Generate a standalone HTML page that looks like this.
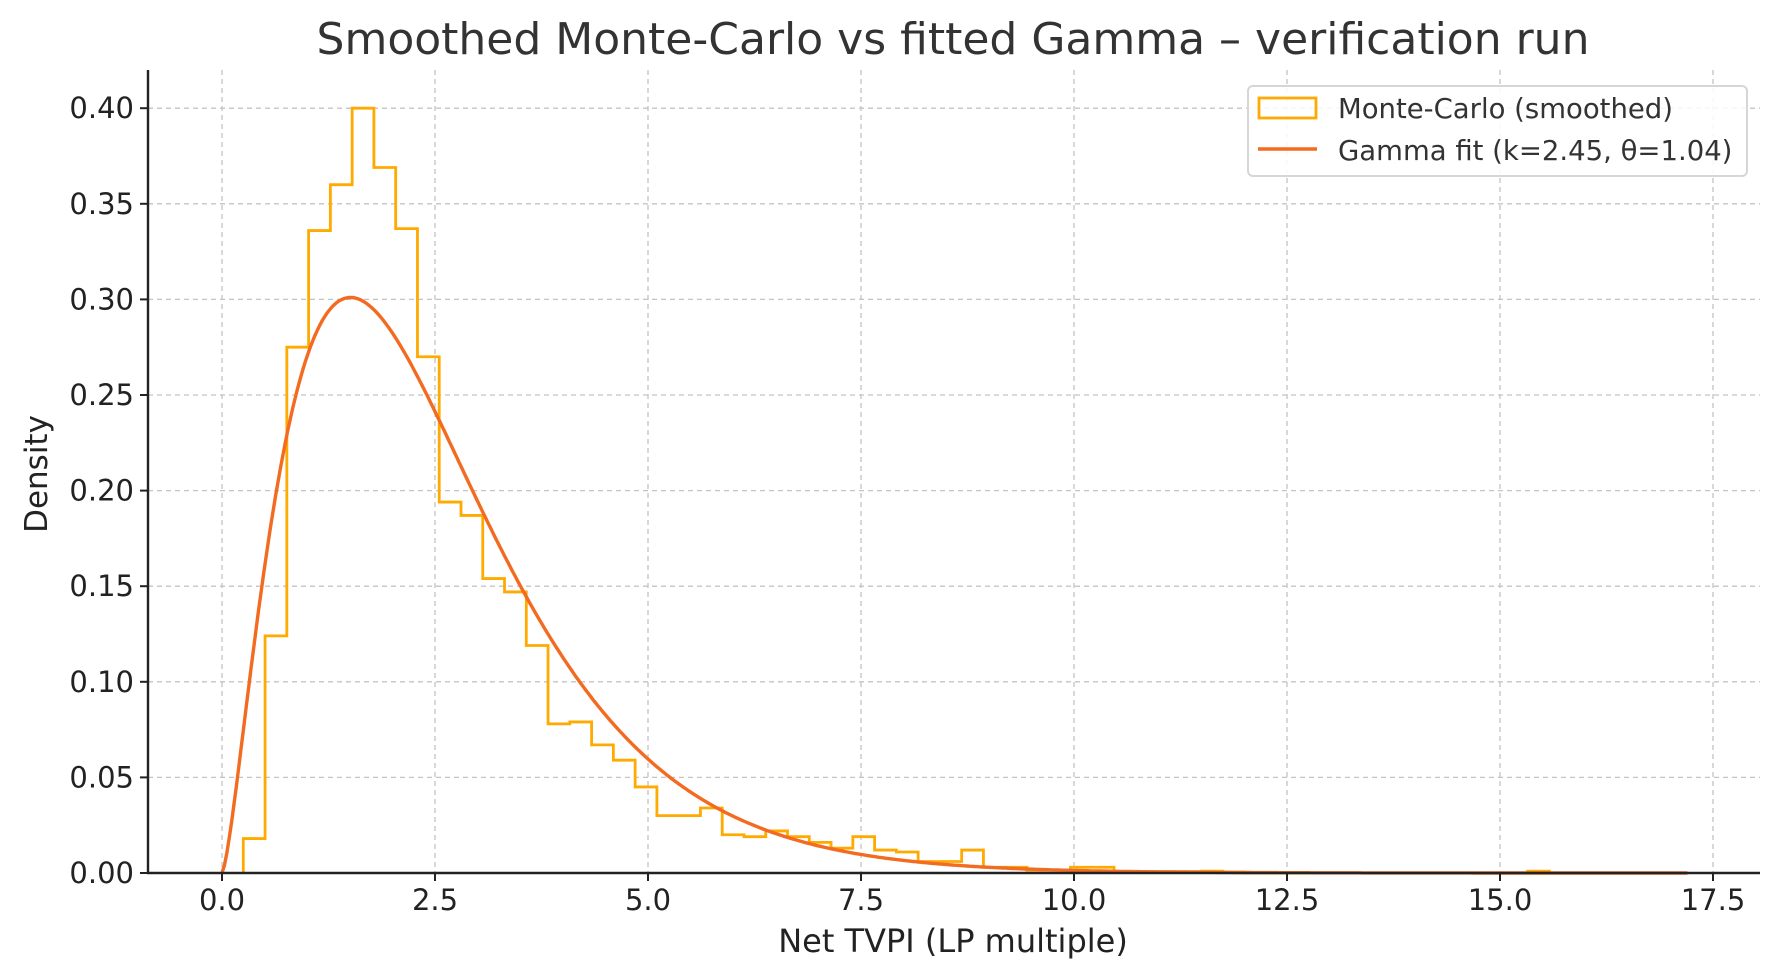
<!DOCTYPE html>
<html><head><meta charset="utf-8"><style>
html,body{margin:0;padding:0;background:#fff;}
svg{display:block;font-family:"DejaVu Sans","Liberation Sans",sans-serif;}
</style></head><body>
<svg id="s" width="1780" height="980" viewBox="0 0 1780 980" xmlns="http://www.w3.org/2000/svg">
<rect width="1780" height="980" fill="#fff"/>
<g id="grid" stroke="#c4c4c4" stroke-width="1.3" stroke-dasharray="5,4"></g>
<path id="hist" fill="none" stroke="#ffaa00" stroke-width="2.8"/>
<path id="gam" fill="none" stroke="#f26b21" stroke-width="3.4"/>
<line x1="148" y1="70" x2="148" y2="874" stroke="#222" stroke-width="2.4"/>
<line x1="147" y1="873" x2="1760" y2="873" stroke="#222" stroke-width="2.4"/>
<g id="ticks" stroke="#222" stroke-width="2"></g>
<g id="labels" fill="#222" font-size="29"></g>
<text x="953" y="54" text-anchor="middle" font-size="44" fill="#333">Smoothed Monte-Carlo vs fitted Gamma – verification run</text>
<text x="953" y="952" text-anchor="middle" font-size="32" fill="#222">Net TVPI (LP multiple)</text>
<text transform="translate(47,474) rotate(-90)" text-anchor="middle" font-size="31" fill="#222">Density</text>
<rect x="1248" y="86" width="499" height="90" rx="5" fill="#fff" fill-opacity="0.85" stroke="#d6d6d6" stroke-width="2"/>
<rect x="1259" y="98" width="57" height="20" fill="none" stroke="#ffaa00" stroke-width="2.8"/>
<line x1="1258" y1="149" x2="1317" y2="149" stroke="#f26b21" stroke-width="3.4"/>
<text x="1338" y="118" font-size="27.5" fill="#333">Monte-Carlo (smoothed)</text>
<text x="1338" y="160" font-size="27.5" fill="#333">Gamma fit (k=2.45, θ=1.04)</text>
</svg>
<script>
var X0=222,XS=85.2,Y0=873,YS=1912;
function px(x){return X0+x*XS;} function py(y){return Y0-y*YS;}
var g=document.getElementById('grid'),t=document.getElementById('ticks'),L=document.getElementById('labels');
var ns='http://www.w3.org/2000/svg';
function el(p,n,a,txt){var e=document.createElementNS(ns,n);for(var k in a)e.setAttribute(k,a[k]);if(txt)e.textContent=txt;p.appendChild(e);}
for(var i=0;i<=7;i++){var x=px(i*2.5);el(g,'line',{x1:x,y1:70,x2:x,y2:872});el(t,'line',{x1:x,y1:873,x2:x,y2:881});
el(L,'text',{x:x,y:910,'text-anchor':'middle'},(i*2.5).toFixed(1));}
for(var j=0;j<=8;j++){var y=py(j*0.05);if(j>0)el(g,'line',{x1:148,y1:y,x2:1760,y2:y});el(t,'line',{x1:140,y1:y,x2:148,y2:y});
el(L,'text',{x:134,y:y+10,'text-anchor':'end'},(j*0.05).toFixed(2));}
var h=[0.018,0.124,0.275,0.336,0.360,0.400,0.369,0.337,0.270,0.194,0.187,0.154,0.147,0.119,0.078,0.079,0.067,0.059,0.045,0.030,0.030,0.034,0.020,0.019,0.022,0.019,0.016,0.013,0.019,0.012,0.011,0.006,0.006,0.012,0.003,0.003,0.0015,0.0015,0.003,0.003,0.0008,0.0008,0.0008,0.0008,0.001,0.0005,0,0,0,0,0,0,0,0,0,0,0,0,0,0.001];
var w=0.2555,s=0.25,d='M'+px(s)+' '+Y0;
for(var i=0;i<h.length;i++){var a=px(s+i*w),b=px(s+(i+1)*w);d+=' L'+a+' '+py(h[i])+' L'+b+' '+py(h[i]);}
d+=' L'+px(s+h.length*w)+' '+Y0;
document.getElementById('hist').setAttribute('d',d);
function lg(z){var c=[76.18009173,-86.50532033,24.01409822,-1.231739572,0.1208650973e-2,-0.5395239384e-5];var x=z,y=z,tmp=x+5.5;tmp-=(x+0.5)*Math.log(tmp);var ser=1.000000000190015;for(var j=0;j<6;j++)ser+=c[j]/++y;return -tmp+Math.log(2.5066282746310005*ser/x);}
var k=2.45,th=1.04,lgk=lg(k),p='';
for(var i=0;i<=600;i++){var x=i*17.2/600;var v=x<=0?0:Math.exp((k-1)*Math.log(x)-x/th-lgk-k*Math.log(th));p+=(i?' L':'M')+px(x).toFixed(1)+' '+py(v).toFixed(1);}
document.getElementById('gam').setAttribute('d',p);
</script>
</body></html>
